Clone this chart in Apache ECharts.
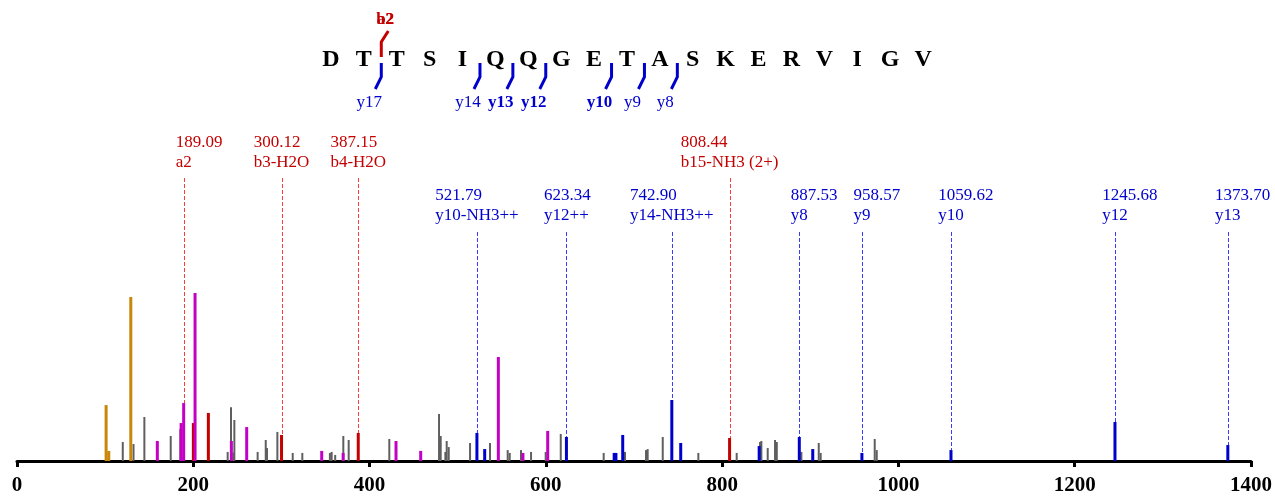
<!DOCTYPE html>
<html><head><meta charset="utf-8">
<script src="https://cdn.jsdelivr.net/npm/echarts@6/dist/echarts.min.js"></script>
<style>html,body{margin:0;padding:0;background:#fff}#c{width:1275px;height:497px}</style>
</head><body><div id="c"></div>
<script>
// ---------------- data ----------------
const residues = ['D','T','T','S','I','Q','Q','G','E','T','A','S','K','E','R','V','I','G','V'];
const bIons = [2];            // b-ion cleavage numbers shown on the sequence
const bIonLabels = ['b2'];
const aIonLabels = ['a2'];
const yIons = [17, 14, 13, 12, 10, 9, 8];
const yIonBold = [false, false, true, true, true, false, false];

const xTicks = [0, 200, 400, 600, 800, 1000, 1200, 1400];

// unassigned peaks (grey)
const greyMz  = [120.0,132.2,144.5,174.4,185.3,239.0,242.8,245.6,246.6,273.0,282.2,283.6,295.4,312.8,323.7,355.0,357.0,361.0,370.2,376.3,422.4,478.8,480.7,486.0,487.5,489.8,514.0,536.6,556.7,559.0,571.8,583.2,599.8,616.9,665.6,689.8,713.6,715.5,732.6,773.0,816.5,843.0,844.5,851.7,860.0,862.0,889.9,909.6,911.8,973.1,975.4];
const greyInt = [11.3,10.1,26.2,14.9,19.0,5.4,32.0,5.0,24.4,5.4,12.5,7.7,17.3,4.8,4.8,4.8,5.4,3.6,14.9,12.5,13.1,28.0,14.9,5.4,11.9,8.3,10.7,10.7,6.5,4.8,6.5,5.4,5.4,16.1,4.8,5.4,6.5,7.1,14.3,4.8,4.8,11.3,11.9,7.7,12.5,11.3,5.4,10.7,4.8,13.1,6.5];
// immonium / low-mass ions (orange)
const orangeMz  = [101.1, 104.1, 129.1];
const orangeInt = [33.3, 6.0, 97.6];
// internal / other ions (magenta)
const magentaMz  = [159.2, 186.2, 189.09, 202.0, 243.2, 260.6, 345.7, 370.0, 430.0, 458.0, 546.1, 574.0, 602.1];
const magentaInt = [11.9, 22.6, 34.5, 100.0, 11.9, 20.2, 6.0, 4.8, 11.9, 6.0, 61.9, 4.8, 17.9];
// b-type ions (red)
const redMz  = [200.1, 217.1, 300.12, 387.15, 808.44];
const redInt = [22.6, 28.6, 15.5, 16.7, 13.7];
// y-type ions (blue)
const blueMz  = [521.79, 530.6, 623.34, 677.5, 679.5, 687.2, 742.90, 753.0, 842.0, 887.53, 902.8, 958.57, 1059.62, 1245.68, 1373.70];
const blueInt = [16.7, 7.1, 14.3, 4.8, 4.8, 15.5, 36.3, 10.7, 8.9, 14.3, 7.1, 4.8, 6.5, 23.2, 9.5];

// annotated peaks
const annMz   = [189.09, 300.12, 387.15, 808.44, 521.79, 623.34, 742.90, 887.53, 958.57, 1059.62, 1245.68, 1373.70];
const annName = ['a2','b3-H2O','b4-H2O','b15-NH3 (2+)','y10-NH3++','y12++','y14-NH3++','y8','y9','y10','y12','y13'];
const annType = ['b','b','b','b','y','y','y','y','y','y','y','y'];

// ---------------- styling ----------------
const SERIF = '"Liberation Serif", "Times New Roman", serif';
const C_GREY = '#5f5f5f', C_ORANGE = '#c8860a', C_MAG = '#c400c4', C_RED = '#c40000', C_BLUE = '#0000cc';
const annStyle = {
  b: {color: '#c40000', dash: '#ff3c3c', lineTop: 178, nameY: 163, numY: 143},
  y: {color: '#0000cc', dash: '#3c3cff', lineTop: 232, nameY: 216, numY: 196}
};
const allPeaks = [].concat(
  greyMz.map((m,i)=>[m,greyInt[i]]), orangeMz.map((m,i)=>[m,orangeInt[i]]),
  magentaMz.map((m,i)=>[m,magentaInt[i]]), redMz.map((m,i)=>[m,redInt[i]]),
  blueMz.map((m,i)=>[m,blueInt[i]]));
function peakHeight(mz){
  let h = 0;
  allPeaks.forEach(p => { if (Math.abs(p[0]-mz) < 0.3 && p[1] > h) h = p[1]; });
  return h;
}
const measCtx = document.createElement('canvas').getContext('2d');
function textW(t, font){ measCtx.font = font; return measCtx.measureText(t).width; }

function peakSeries(mz, inten, color, w, z){
  return {
    type: 'custom', xAxisIndex: 0, yAxisIndex: 0, z: z, silent: true, clip: false,
    data: mz.map((m,i)=>[m, inten[i]]),
    encode: {x: 0, y: 1},
    renderItem: (params, api) => {
      const p0 = api.coord([api.value(0), 0]);
      const p1 = api.coord([api.value(0), api.value(1)]);
      return {type: 'rect', shape: {x: p0[0]-w/2, y: p1[1], width: w, height: p0[1]-p1[1]},
              style: {fill: color}};
    }
  };
}

const ANN_FONT = '17px ' + SERIF;
const annSeries = {
  type: 'custom', xAxisIndex: 0, yAxisIndex: 0, z: 1, silent: true, clip: false,
  data: annMz.map((m,i)=>[m, peakHeight(m), i]),
  encode: {x: 0, y: 1},
  renderItem: (params, api) => {
    const i = api.value(2);
    const st = annStyle[annType[i]];
    const p = api.coord([api.value(0), api.value(1)]);
    const x = Math.round(p[0]) + 0.5;
    const name = annName[i];
    const nw = textW(name, ANN_FONT);
    return {type: 'group', children: [
      {type: 'line', shape: {x1: x, y1: st.lineTop, x2: x, y2: p[1]},
       style: {stroke: st.dash, lineWidth: 1, lineDash: [4, 2]}},
      {type: 'text', style: {text: name, x: p[0]-nw/2, y: st.nameY, fill: st.color, font: ANN_FONT,
        textAlign: 'left', align: 'left', textVerticalAlign: 'middle', verticalAlign: 'middle'}},
      {type: 'text', style: {text: annMz[i].toFixed(2), x: p[0]-nw/2, y: st.numY, fill: st.color, font: ANN_FONT,
        textAlign: 'left', align: 'left', textVerticalAlign: 'middle', verticalAlign: 'middle'}}
    ]};
  }
};

const LETTER_FONT = 'bold 24px ' + SERIF;
const letterSeries = {
  type: 'custom', xAxisIndex: 1, yAxisIndex: 1, silent: true, clip: false,
  data: residues.map((r,i)=>[i, 0.5]),
  renderItem: (params, api) => {
    const p = api.coord([api.value(0), api.value(1)]);
    return {type: 'text', style: {text: residues[params.dataIndex], x: p[0], y: p[1], fill: '#000', font: LETTER_FONT,
      textAlign: 'center', align: 'center', textVerticalAlign: 'middle', verticalAlign: 'middle'}};
  }
};

const N = residues.length;
const fragData = bIons.map((n,i)=>[n, 0.5, 0, i]).concat(yIons.map((n,i)=>[N-n, 0.5, 1, i]));
const fragSeries = {
  type: 'custom', xAxisIndex: 1, yAxisIndex: 1, silent: true, clip: false,
  data: fragData,
  renderItem: (params, api) => {
    const k = api.value(0), kind = api.value(2), idx = api.value(3);
    const a = api.coord([k-1, 0.5]), b = api.coord([k, 0.5]);
    const x = (a[0]+b[0])/2 + 1, yc = a[1];
    if (kind === 0) {
      const col = C_RED;
      const f = 'bold 17px ' + SERIF;
      return {type: 'group', children: [
        {type: 'polyline', shape: {points: [[x, yc-3], [x, yc-18], [x+7, yc-29]]}, style: {stroke: col, lineWidth: 3, fill: null}},
        {type: 'text', style: {text: aIonLabels[idx], x: x+4, y: yc-40, fill: col, font: f, textAlign: 'center', align: 'center', textVerticalAlign: 'middle', verticalAlign: 'middle'}},
        {type: 'text', style: {text: bIonLabels[idx], x: x+4, y: yc-40, fill: col, font: f, textAlign: 'center', align: 'center', textVerticalAlign: 'middle', verticalAlign: 'middle'}}
      ]};
    } else {
      const col = C_BLUE;
      const f = (yIonBold[idx] ? 'bold ' : '') + '17px ' + SERIF;
      return {type: 'group', children: [
        {type: 'polyline', shape: {points: [[x, yc+3], [x, yc+17], [x-6, yc+29]]}, style: {stroke: col, lineWidth: 3, fill: null}},
        {type: 'text', style: {text: 'y' + yIons[idx], x: x-12, y: yc+43, fill: col, font: f, textAlign: 'center', align: 'center', textVerticalAlign: 'middle', verticalAlign: 'middle'}}
      ]};
    }
  }
};

const chart = echarts.init(document.getElementById('c'), null, {renderer: 'canvas'});
chart.setOption({
  animation: false,
  backgroundColor: '#fff',
  grid: [
    {left: 17, right: 24, top: 41, bottom: 36},
    {left: 314.5, width: 625, top: 40, height: 40}
  ],
  xAxis: [
    {type: 'value', gridIndex: 0, min: xTicks[0], max: xTicks[xTicks.length-1], interval: xTicks[1]-xTicks[0],
     axisLine: {show: true, onZero: false, lineStyle: {color: '#000', width: 3}},
     axisTick: {show: true, length: 6, lineStyle: {color: '#000', width: 3}},
     axisLabel: {color: '#000', fontFamily: SERIF, fontWeight: 'bold', fontSize: 21, margin: 14,
                 formatter: v => String(v)},
     splitLine: {show: false}},
    {type: 'category', gridIndex: 1, data: residues, show: false}
  ],
  yAxis: [
    {type: 'value', gridIndex: 0, min: 0, max: 250, show: false},
    {type: 'value', gridIndex: 1, min: 0, max: 1, show: false}
  ],
  series: [
    annSeries,
    peakSeries(greyMz, greyInt, C_GREY, 2, 2),
    peakSeries(orangeMz, orangeInt, C_ORANGE, 3, 3),
    peakSeries(redMz, redInt, C_RED, 3, 3),
    peakSeries(magentaMz, magentaInt, C_MAG, 3, 4),
    peakSeries(blueMz, blueInt, C_BLUE, 3, 4),
    letterSeries,
    fragSeries
  ]
});
</script>
</body></html>
